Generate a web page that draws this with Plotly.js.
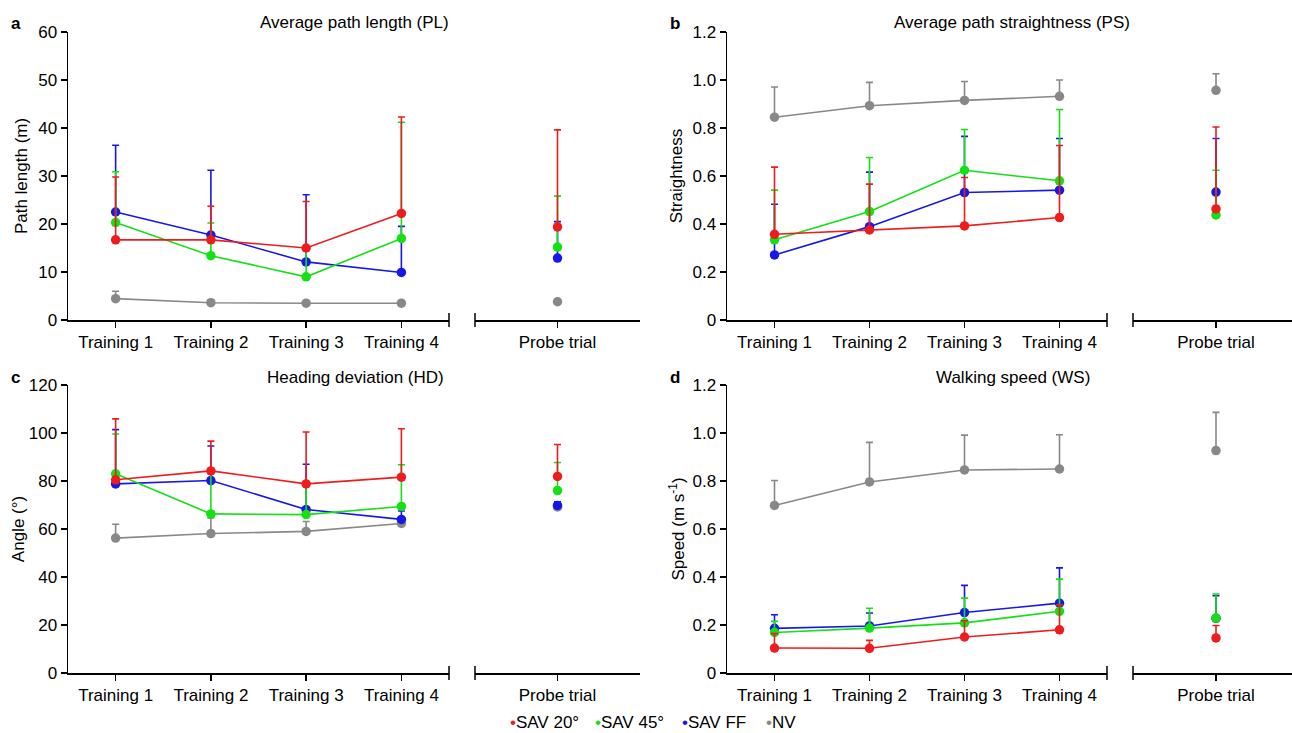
<!DOCTYPE html>
<html>
<head>
<meta charset="utf-8">
<script src="https://cdn.plot.ly/plotly-3.0.1.min.js"></script>
<style>html,body{margin:0;padding:0;background:#fff;}#chart{width:1292px;height:733px;}</style>
</head>
<body>
<div id="chart"></div>
<script>
// ---------- data ----------
const trainingLabels = ['Training 1', 'Training 2', 'Training 3', 'Training 4'];
const probeLabel = ['Probe trial'];
const seriesNames = ['SAV 20°', 'SAV 45°', 'SAV FF', 'NV'];
const seriesColors = ['#ee1c1c', '#14e014', '#1717e8', '#888888'];

// Panel a: path length (m)
const plTrain = { 'SAV 20°': [16.7, 16.7, 15.0, 22.2], 'SAV 45°': [20.3, 13.4, 9.0, 17.0], 'SAV FF': [22.5, 17.7, 12.1, 9.9], 'NV': [4.45, 3.6, 3.5, 3.5] };
const plTrainErr = { 'SAV 20°': [13.1, 7.0, 9.7, 20.1], 'SAV 45°': [10.6, 6.8, 5.5, 24.2], 'SAV FF': [13.9, 13.5, 14.0, 9.6], 'NV': [1.55, 0.5, 0.4, 0.4] };
const plProbe = { 'SAV 20°': 19.4, 'SAV 45°': 15.2, 'SAV FF': 12.9, 'NV': 3.8 };
const plProbeErr = { 'SAV 20°': 20.2, 'SAV 45°': 10.6, 'SAV FF': 7.6, 'NV': 0.3 };

// Panel b: path straightness
const psTrain = { 'SAV 20°': [0.357, 0.375, 0.392, 0.427], 'SAV 45°': [0.334, 0.452, 0.624, 0.58], 'SAV FF': [0.271, 0.389, 0.531, 0.541], 'NV': [0.845, 0.893, 0.915, 0.932] };
const psTrainErr = { 'SAV 20°': [0.28, 0.191, 0.202, 0.3], 'SAV 45°': [0.207, 0.225, 0.17, 0.297], 'SAV FF': [0.211, 0.227, 0.234, 0.215], 'NV': [0.126, 0.097, 0.079, 0.068] };
const psProbe = { 'SAV 20°': 0.463, 'SAV 45°': 0.438, 'SAV FF': 0.533, 'NV': 0.957 };
const psProbeErr = { 'SAV 20°': 0.341, 'SAV 45°': 0.186, 'SAV FF': 0.223, 'NV': 0.069 };

// Panel c: heading deviation (deg)
const hdTrain = { 'SAV 20°': [80.5, 84.2, 78.8, 81.6], 'SAV 45°': [83.0, 66.3, 66.0, 69.4], 'SAV FF': [78.8, 80.2, 68.1, 64.0], 'NV': [56.2, 58.1, 59.0, 62.3] };
const hdTrainErr = { 'SAV 20°': [25.4, 12.4, 21.6, 20.2], 'SAV 45°': [16.6, 17.0, 12.0, 17.4], 'SAV FF': [22.6, 14.4, 18.9, 3.5], 'NV': [5.8, 6.5, 4.1, 1.1] };
const hdProbe = { 'SAV 20°': 81.9, 'SAV 45°': 76.0, 'SAV FF': 69.8, 'NV': 69.2 };
const hdProbeErr = { 'SAV 20°': 13.3, 'SAV 45°': 11.7, 'SAV FF': 1.5, 'NV': 1.0 };

// Panel d: walking speed (m/s)
const wsTrain = { 'SAV 20°': [0.104, 0.103, 0.15, 0.18], 'SAV 45°': [0.169, 0.187, 0.209, 0.257], 'SAV FF': [0.186, 0.196, 0.252, 0.291], 'NV': [0.698, 0.796, 0.846, 0.85] };
const wsTrainErr = { 'SAV 20°': [0.06, 0.033, 0.068, 0.104], 'SAV 45°': [0.046, 0.083, 0.103, 0.134], 'SAV FF': [0.057, 0.054, 0.113, 0.147], 'NV': [0.104, 0.165, 0.145, 0.143] };
const wsProbe = { 'SAV 20°': 0.146, 'SAV 45°': 0.229, 'SAV FF': 0.228, 'NV': 0.927 };
const wsProbeErr = { 'SAV 20°': 0.052, 'SAV 45°': 0.1, 'SAV FF': 0.094, 'NV': 0.159 };

const yTicksA = [0, 10, 20, 30, 40, 50, 60];
const yTicksB = [0, 0.2, 0.4, 0.6, 0.8, 1.0, 1.2];
const yTickTextB = ['0', '0.2', '0.4', '0.6', '0.8', '1.0', '1.2'];
const yTicksC = [0, 20, 40, 60, 80, 100, 120];
const yTicksD = [0, 0.2, 0.4, 0.6, 0.8, 1.0, 1.2];
const yTickTextD = ['0', '0.2', '0.4', '0.6', '0.8', '1.0', '1.2'];

// ---------- build ----------
const W = 1292, H = 733;
const FONT = 'Liberation Sans, Arial, Helvetica, sans-serif';
const drawOrder = ['NV', 'SAV FF', 'SAV 45°', 'SAV 20°'];
const colorOf = n => seriesColors[seriesNames.indexOf(n)];

const panels = [
  { tx: 'x', px: 'x2', y: 'y', train: plTrain, trainErr: plTrainErr, probe: plProbe, probeErr: plProbeErr },
  { tx: 'x3', px: 'x4', y: 'y2', train: psTrain, trainErr: psTrainErr, probe: psProbe, probeErr: psProbeErr },
  { tx: 'x5', px: 'x6', y: 'y3', train: hdTrain, trainErr: hdTrainErr, probe: hdProbe, probeErr: hdProbeErr },
  { tx: 'x7', px: 'x8', y: 'y4', train: wsTrain, trainErr: wsTrainErr, probe: wsProbe, probeErr: wsProbeErr }
];

const traces = [];
panels.forEach(p => {
  drawOrder.forEach(name => {
    const c = colorOf(name);
    traces.push({
      type: 'scatter', mode: 'lines+markers', name: name, showlegend: false,
      x: trainingLabels.map((_, i) => i), y: p.train[name],
      xaxis: p.tx, yaxis: p.y,
      line: { color: c, width: 1.6 },
      marker: { color: c, size: 9.5 },
      error_y: { type: 'data', symmetric: false, array: p.trainErr[name], arrayminus: p.train[name].map(() => 0), color: c, thickness: 1.6, width: 3.5 },
      cliponaxis: false, hoverinfo: 'skip'
    });
    traces.push({
      type: 'scatter', mode: 'markers', name: name, showlegend: false,
      x: [0], y: [p.probe[name]],
      xaxis: p.px, yaxis: p.y,
      marker: { color: c, size: 9.5 },
      error_y: { type: 'data', symmetric: false, array: [p.probeErr[name]], arrayminus: [0], color: c, thickness: 1.6, width: 3.5 },
      cliponaxis: false, hoverinfo: 'skip'
    });
  });
});

const px = v => v / W;
const pyTop = v => 1 - v / H;
const rowTop = [pyTop(320), pyTop(32)];
const rowBot = [pyTop(673), pyTop(385)];
const trainDomL = [px(68), px(449)];
const probeDomL = [px(475), px(640)];
const trainDomR = [px(727), px(1107)];
const probeDomR = [px(1133), 1];

const tickFont = { family: FONT, size: 17, color: '#000' };
function trainAxis(dom, anchor) {
  return { domain: dom, anchor: anchor, range: [-0.5, 3.5], tickvals: [0, 1, 2, 3], ticktext: trainingLabels,
    showline: true, linecolor: '#000', linewidth: 1.5, ticks: 'outside', ticklen: 6, tickwidth: 1.5, tickcolor: '#000',
    showgrid: false, zeroline: false, tickfont: tickFont, fixedrange: true, automargin: false };
}
function probeAxis(dom, anchor, range) {
  return { domain: dom, anchor: anchor, range: range, tickvals: [0], ticktext: probeLabel,
    showline: true, linecolor: '#000', linewidth: 1.5, ticks: 'outside', ticklen: 6, tickwidth: 1.5, tickcolor: '#000',
    showgrid: false, zeroline: false, tickfont: tickFont, fixedrange: true, automargin: false };
}
function yAxis(dom, anchor, range, vals, text, title, standoff) {
  return { domain: dom, anchor: anchor, range: range, tickvals: vals, ticktext: text,
    showline: true, linecolor: '#000', linewidth: 1.5, ticks: 'outside', ticklen: 6, tickwidth: 1.5, tickcolor: '#000',
    showgrid: false, zeroline: false, tickfont: tickFont, fixedrange: true, automargin: false,
    title: { text: title, font: { family: FONT, size: 17, color: '#000' }, standoff: standoff } };
}

const layout = {
  width: W, height: H,
  margin: { l: 0, r: 0, t: 0, b: 0 },
  paper_bgcolor: '#fff', plot_bgcolor: 'rgba(0,0,0,0)',
  font: { family: FONT, size: 17, color: '#000' },
  showlegend: false,
  xaxis: trainAxis(trainDomL, 'y'),
  xaxis2: probeAxis(probeDomL, 'y', [-1, 1]),
  xaxis3: trainAxis(trainDomR, 'y2'),
  xaxis4: probeAxis(probeDomR, 'y2', [-1, 76 / 83]),
  xaxis5: trainAxis(trainDomL, 'y3'),
  xaxis6: probeAxis(probeDomL, 'y3', [-1, 1]),
  xaxis7: trainAxis(trainDomR, 'y4'),
  xaxis8: probeAxis(probeDomR, 'y4', [-1, 76 / 83]),
  yaxis: yAxis(rowTop, 'x', [0, 60], yTicksA, yTicksA.map(String), 'Path length (m)', 6),
  yaxis2: yAxis(rowTop, 'x3', [0, 1.2], yTicksB, yTickTextB, 'Straightness', 5),
  yaxis3: yAxis(rowBot, 'x5', [0, 120], yTicksC, yTicksC.map(String), 'Angle (°)', 0),
  yaxis4: yAxis(rowBot, 'x7', [0, 1.2], yTicksD, yTickTextD, 'Speed (m s<sup>-1</sup>)', 3),
  shapes: [],
  annotations: []
};

// broken-axis end marks
const br = 7 / 288;
[['x', 'y', 1], ['x2', 'y', 0], ['x3', 'y2', 1], ['x4', 'y2', 0], ['x5', 'y3', 1], ['x6', 'y3', 0], ['x7', 'y4', 1], ['x8', 'y4', 0]].forEach(([xa, ya, xv]) => {
  layout.shapes.push({ type: 'line', xref: xa + ' domain', yref: ya + ' domain', x0: xv, x1: xv, y0: -br, y1: br, line: { color: '#000', width: 1.5 } });
});

// panel titles and letters
const panelTitles = ['Average path length (PL)', 'Average path straightness (PS)', 'Heading deviation (HD)', 'Walking speed (WS)'];
const panelLetters = ['a', 'b', 'c', 'd'];
const titlePos = [[354, 23], [1012, 23], [355, 377], [1013, 377]];
const letterPos = [[16, 24], [675, 24], [15, 377], [675, 377]];
panelTitles.forEach((t, i) => {
  layout.annotations.push({ text: t, xref: 'paper', yref: 'paper', x: px(titlePos[i][0]), y: pyTop(titlePos[i][1]), xanchor: 'center', yanchor: 'middle', showarrow: false, font: { family: FONT, size: 17, color: '#000' } });
  layout.annotations.push({ text: '<b>' + panelLetters[i] + '</b>', xref: 'paper', yref: 'paper', x: px(letterPos[i][0]), y: pyTop(letterPos[i][1]), xanchor: 'center', yanchor: 'middle', showarrow: false, font: { family: FONT, size: 17, color: '#000' } });
});

// legend row
const legendX = [508, 593, 680, 764];
seriesNames.forEach((n, i) => {
  layout.annotations.push({ text: '<span style="color:' + seriesColors[i] + '">•</span>' + n, xref: 'paper', yref: 'paper', x: px(legendX[i]), y: pyTop(722), xanchor: 'left', yanchor: 'middle', showarrow: false, font: { family: FONT, size: 17, color: '#000' } });
});

Plotly.newPlot('chart', traces, layout, { displayModeBar: false, staticPlot: true });
</script>
</body>
</html>
